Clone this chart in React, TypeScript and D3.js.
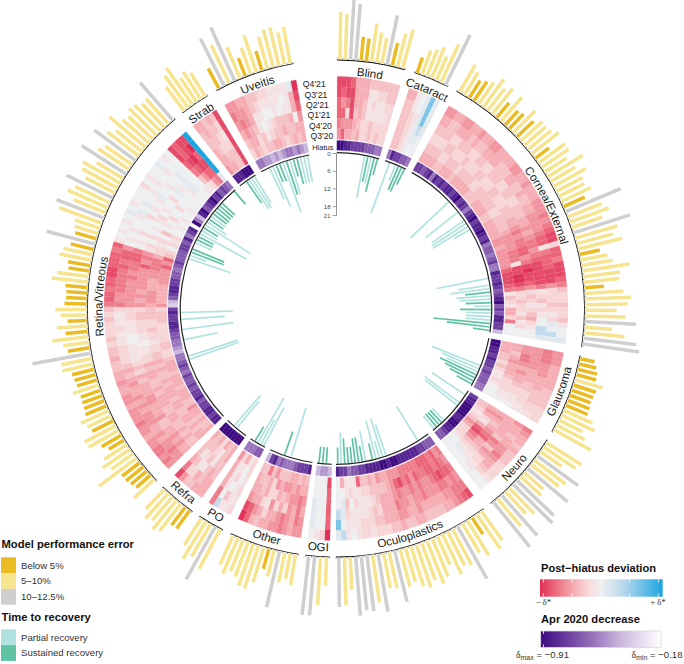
import React from "react";
import * as d3 from "d3";

// ---------- sectors ----------
const sectorNames = ["Blind","Cataract","Cornea/External","Glaucoma","Neuro","Oculoplastics","OGI","Other","PO","Refra","Retina/Vitreous","Strab","Uveitis"];
const rowLabels = ["Q4'21","Q3'21","Q2'21","Q1'21","Q4'20","Q3'20"];
const monthTicks = [0,6,12,18,21];

// Model performance error (%) per model
const blindError = [9.8,9.4,12.5,11.7,4.9,4.7,8.0,6.3,5.3,10.4,4.8,7.1,8.3];
const cataractError = [3.3,5.3,6.0,6.9,5.3,8.7,11.5];
const corneaError = [6.5,5.4,4.2,4.8,5.5,7.2,5.8,6.8,4.0,6.6,4.0,4.3,6.5,4.7,6,5.8,6.2,7.1,3.6,6.8,6.8,5.4,8.5,5.9,7.7,6.2,5.9,6.8,4.8,12.4,7.5,8.6,6.6,12.3,9.1,7.8,9.4,4.3,5.7,6.5,9.9,7.7,7.3,4,8,9.5,8.7,6.5,8.3,10.6,5.6,8.4,11,11.8];
const glaucomaError = [3,3.6,4.1,4.2,5.9,4.9,4.7,4.6,4.8,4.9,6.5,7.6,5.4,6.6,8.7];
const neuroError = [8.6,8,5.4,10.5,8.2,7.4,10.9,5.3,5.8,10.6,11.5,7.4,6.2,11.2,7.5,12];
const oculoError = [7.4,8.6,4.1,8.5,7.0,12.5,8.4,7.9,9.2,6.4,8.5,9.6,8.2,9.4,8.7,7.3,8.0,10.9,7.7,7.4,12.1,9.9,11.6,11.2,12.2,6.7,9.9,10.2];
const ogiError = [5.8,9.9,12.2,12.2];
const otherError = [6.4,5.3,6.3,11.9,5.6,4.3,7.6,9.4,9.2,7.7,7,8.1,6.6];
const poError = [9.3,12.5,7.8,9.1,6.6];
const refraError = [4.6,4.7,7.2,7.8,6.4,7.1,5.5];
const retinaError = [5.7,3.9,4.3,4.6,4.6,9.7,5.6,6.8,5.6,3.7,4.7,7.1,7.3,4.9,5.4,6.3,4.7,4.5,4.4,4.3,5.6,4.3,4.5,4.7,6.5,6.4,12.3,4.6,5.4,7.5,4.6,6.3,4,5.4,6.5,4.6,4.3,4.3,4.6,7.6,6.6,4.4,4.7,6.7,6.2,4.9,10.4,4.6,5.1,5.5,9.4,10.5,7.2,9.1,8.0,10.6,6.9,8.4,9.0,6.4,10.9,7.7,6.8,10.6,8.2,7.0,9.8,7.4,6.9,7.9,7.7,6.7,7.0,10.3];
const strabError = [6.2,8.2,9.3,5.9,6.7,5.7];
const uveitisError = [4.7,10.9,8.7,12.1,7,4,5.8,8.1,4.2,6.9,8.1,8.2,6.8,7.7];

// Post-hiatus deviation: digit = red strength 0-9, letters a-d = blue strength. One string per quarter.
const blindHeat = ["8887444333333","8788444112233","7568443121122","7728343111112","6555432232222","5744342232322"];
const cataractHeat = ["4410aca","3310aca","3321aca","3321aba","3321aa0","3321000"];
const corneaHeat = [
  "554455445445544445544544455565"+"6788277688876"+"3223223100a",
  "443344434334444333443343344555"+"5677167778885"+"2223212a0ba",
  "333322333223322333223322333445"+"4566567888886"+"12312100bba",
  "222233222322233222332223334456"+"5667756898875"+"23212342100",
  "333322333233332233333322333345"+"5556661889986"+"22322131200",
  "444433444344444333444433444445"+"5455555788876"+"13214426000"];
const glaucomaHeat = ["555444443333222","666555444333221","555554443322211","556654544322110","443454443222110","444332321121000"];
const neuroHeat = ["6544343332222100","5443445565443200","4444436535422110","4543456744321100","4542147865321a00","3321235422210000"];
const oculoHeat = ["87654433334433433222122101ba","666554444454455444332221110c","5656655565"+"5455644423"+"211112ab","6778765565"+"6556544432"+"111203a0","5676776675"+"7687543333"+"22112100","6576777666"+"6655544534"+"33711140"];
const ogiHeat = ["9210","700a","700a","700a","7000","8000"];
const otherHeat = ["5545655443479","5645654424578","4645242512445","5655434224344","4454554524334","3434433353633"];
const poHeat = ["211b6","11306","21014","10214","20114","21425"];
const refraHeat = ["4443358","4434226","3431134","3313213","4312333","4342434"];
const retinaHeat = [
  "56566554556555455445"+"443343323222323"+"6776778877767"+"101010a0100020100a010"+"8788d",
  "55655454455545454454"+"343222211121112"+"6556666676775"+"0101001a0a00101001000"+"8789d",
  "44545443354445544434"+"232111100111222"+"5555556566776"+"010200020101a00100a00"+"7897d",
  "33434334433444343344"+"342211011222332"+"5454555557565"+"120201012010020a10a00"+"6788d",
  "44343443344344434334"+"343322122322333"+"4555444556664"+"221203010200200001a00"+"3577d",
  "43343445334443444344"+"432233222223332"+"5444445555757"+"320212001010010000001"+"1256a"];
const strabHeat = ["443438","343328","333218","432228","443338","544338"];
const uveitisHeat = ["554433221111a9","65543211110148","56541100101147","45431012333405","34423123343344","24323344323434"];

// Apr 2020 decrease: digit 0-9 = strength of the drop
const blindHiatus = "9988777766655";
const cataractHiatus = "5877665";
const corneaHiatus = "776785878788789787"+"578978898785"+"665675587"+"787678967"+"688773";
const glaucomaHiatus = "998878776766655";
const neuroHiatus = "7889999889988766";
const oculoHiatus = "6667788888899899888877665778";
const ogiHiatus = "3443";
const otherHiatus = "8777655565873";
const poHiatus = "66555";
const refraHiatus = "9999999";
const retinaHiatus = "8878877687767667567"+"655345566788778"+"7236788776656766"+"677685780953896789786765";
const strabHiatus = "888999";
const uveitisHiatus = "55443434554543";

// Time to recovery in months: [model index, months]; negative = sustained, positive = partial
const blindRecovery = [[8,14.4],[9,-8.6],[10,9],[11,-11.7],[12,-5.6]];
const cataractRecovery = [[1,18],[3,5.6],[4,-8.6],[5,-8.8],[6,-5.8]];
const corneaRecovery = [[13,17.7],[17,13.8],[20,13.2],[21,13.6],[22,13.8],[23,5.9],[38,17.7],[40,10.6],[41,13.5],[42,-8.5],[43,11.5],[44,10.5],[45,-8.6],[46,5.7],[47,-10.5],[48,8.5],[49,8.5],[50,8.5],[51,-19.4],[52,-14.7],[53,-5.6]];
const glaucomaRecovery = [[8,17.4],[9,13.6],[10,11.4],[11,-13.5],[12,-11.2],[13,-8.9],[14,-5.7]];
const neuroRecovery = [[1,13.5],[4,14.7],[5,13.9],[11,5.5],[12,-5.5],[13,-5.5],[14,-5.6],[15,5.6]];
const oculoRecovery = [[3,13.4],[13,11],[14,13.3],[15,5.6],[16,13.2],[17,-5.5],[19,10.3],[20,-5.3],[21,-8.4],[22,-8.2],[23,-5.4],[24,-5.4],[25,-8.4],[26,10.5],[27,-5.4]];
const ogiRecovery = [[1,-5.4],[2,-5.4],[3,-5.4]];
const otherRecovery = [[6,17.4],[8,-8.3]];
const poRecovery = [[0,14.5],[1,9.5],[2,17.4],[3,-5.6]];
const refraRecovery = [[3,11.6],[4,13.6]];
const retinaRecovery = [[19,17.6],[20,17.6],[25,11.6],[28,17.4],[31,14.7],[33,17.5],[49,14.8],[50,5.8],[51,-11.7],[52,-11.5],[54,6],[55,-5.8],[56,-5.7],[57,17.8],[58,6],[59,-5.6],[60,17.9],[61,7.8],[62,-5.8],[63,6],[64,-5.7],[65,-5.9],[66,-5.8],[67,-5.9],[68,-5.8],[73,-5.7]];
const strabRecovery = [[2,-8.7],[3,11.7],[4,12],[5,10.5]];
const uveitisRecovery = [[2,11.5],[3,14.7],[4,-6],[5,-6.2],[6,17.8],[7,-11.8],[8,11.8],[9,-6],[10,-8.9],[11,9],[12,9],[13,9]];

// ---------- layout ----------
const W = 684, H = 664, cx = 336, cy = 308.5;
const sectorStart = [0.3,18.4,29.1,101,121.9,143.7,181.5,188.7,207.1,215.3,226.2,321.9,331.3];
const sectorEnd = [16.1,26.7,98.8,119.7,141.5,180,187,205,213.3,224.1,319.7,328.9,350.1];
const errors = [blindError,cataractError,corneaError,glaucomaError,neuroError,oculoError,ogiError,otherError,poError,refraError,retinaError,strabError,uveitisError];
const heats = [blindHeat,cataractHeat,corneaHeat,glaucomaHeat,neuroHeat,oculoHeat,ogiHeat,otherHeat,poHeat,refraHeat,retinaHeat,strabHeat,uveitisHeat];
const hiatuses = [blindHiatus,cataractHiatus,corneaHiatus,glaucomaHiatus,neuroHiatus,oculoHiatus,ogiHiatus,otherHiatus,poHiatus,refraHiatus,retinaHiatus,strabHiatus,uveitisHiatus];
const recoveries = [blindRecovery,cataractRecovery,corneaRecovery,glaucomaRecovery,neuroRecovery,oculoRecovery,ogiRecovery,otherRecovery,poRecovery,refraRecovery,retinaRecovery,strabRecovery,uveitisRecovery];

const FONT = "'Liberation Sans', Arial, sans-serif";
const GOLD = "#EBBB24", YELLOW = "#F6E48F", GRAY = "#CFCFCF", PARTIAL = "#B0E3DF", SUSTAINED = "#5FC3A3";

const rad = (d: number) => (d * Math.PI) / 180;
const errorRadius = d3.scaleLinear().domain([0, 12.5]).range([249.5, 309.5]);
const monthRadius = d3.scaleLinear().domain([0, 21]).range([155, 93]);
const rowBand = d3.scaleBand().domain(rowLabels).range([232, 169.3]);
const heatColor = d3.scaleLinear<string>().domain([-1,-0.75,-0.45,-0.2,0,0.35,1]).range(["#E03058","#EC6A7C","#F4ADB3","#F7DADC","#EEEFF1","#BBD8EC","#1AA6E0"]);
const hiatusColor = d3.scaleLinear<string>().domain([0,3,5,7,9]).range(["#FFFFFF","#CBB8DE","#9A76BC","#6B3E9F","#3D0A80"]);
const BLUE: Record<string, number> = { a: 0.08, b: 0.3, c: 0.6, d: 1 };
const dev = (c: string) => (c in BLUE ? BLUE[c] : -Number(c) / 9);
const arc = d3.arc<any>();
const polar = (deg: number, r: number) => [cx + r * Math.sin(rad(deg)), cy - r * Math.cos(rad(deg))];
const ring = (a0: number, a1: number, r0: number, r1: number) =>
  arc({ innerRadius: r0, outerRadius: r1, startAngle: rad(a0), endAngle: rad(a1) }) as string;

function labelPath(mid: number, flip: boolean) {
  const p = d3.path();
  const r = flip ? 243 : 233.5;
  const a0 = rad(mid - 40 - 90), a1 = rad(mid + 40 - 90);
  if (flip) p.arc(cx, cy, r, a1, a0, true);
  else p.arc(cx, cy, r, a0, a1, false);
  return p.toString();
}

function Sector({ idx }: { idx: number }) {
  const s = sectorStart[idx], e = sectorEnd[idx], vals = errors[idx], n = vals.length, step = (e - s) / n;
  const mid = (s + e) / 2, flip = mid > 90 && mid < 270;
  return (
    <g>
      {Array.from({ length: n }, (_, i) => {
        const a = s + step * (i + 0.5);
        const [x1, y1] = polar(a, errorRadius(0));
        const [x2, y2] = polar(a, errorRadius(vals[i]));
        const col = vals[i] < 5 ? GOLD : vals[i] < 10 ? YELLOW : GRAY;
        return <line key={"b" + i} x1={x1} y1={y1} x2={x2} y2={y2} stroke={col} strokeWidth={3.5} />;
      })}
      {recoveries[idx].map(([i, v]) => {
        const a = s + step * (i + 0.5);
        const [x1, y1] = polar(a, monthRadius(0));
        const [x2, y2] = polar(a, monthRadius(Math.abs(v)));
        return <line key={"r" + i} x1={x1} y1={y1} x2={x2} y2={y2} stroke={v < 0 ? SUSTAINED : PARTIAL} strokeWidth={1.7} />;
      })}
      <g transform={`translate(${cx},${cy})`}>
        {heats[idx].map((row, j) =>
          Array.from(row).map((c, i) => {
            const top = rowBand(rowLabels[j])! + rowBand.bandwidth();
            const col = heatColor(dev(c));
            return <path key={j + "-" + i} d={ring(s + step * i, s + step * (i + 1), rowBand(rowLabels[j])!, top)} fill={col} stroke={col} strokeWidth={0.2} />;
          })
        )}
        {Array.from(hiatuses[idx]).map((c, i) => {
          const col = hiatusColor(Number(c));
          return <path key={"h" + i} d={ring(s + step * i, s + step * (i + 1), 158.3, 168)} fill={col} stroke={col} strokeWidth={0.2} />;
        })}
        <path d={ring(s, e, 248.1, 248.9)} fill="#111" />
        <path d={ring(s, e, 155.2, 156.4)} fill="#222" />
      </g>
      {Array.from({ length: n + 1 }, (_, i) => {
        const a = s + step * i;
        const [x1, y1] = polar(a, 248.5);
        const [x2, y2] = polar(a, 250);
        return <line key={"t" + i} x1={x1} y1={y1} x2={x2} y2={y2} stroke="#111" strokeWidth={0.5} />;
      })}
      <path id={"lab" + idx} d={labelPath(mid, flip)} fill="none" />
      <text fontFamily={FONT} fontSize={11.6} fill="#1a1a1a" textAnchor="middle">
        <textPath href={"#lab" + idx} startOffset="50%">{sectorNames[idx]}</textPath>
      </text>
    </g>
  );
}

function Legend() {
  const swatches1 = [["Below 5%", GOLD], ["5\u201310%", YELLOW], ["10\u201312.5%", GRAY]];
  const swatches2 = [["Partial recovery", PARTIAL], ["Sustained recovery", SUSTAINED]];
  const devStops = d3.range(0, 1.0001, 0.05);
  const tickX = d3.scaleLinear().domain([-1, 1]).range([543.3, 658.3]);
  return (
    <g fontFamily={FONT}>
      <text x={1.5} y={548} fontSize={11.2} fontWeight="bold" fill="#111">Model performance error</text>
      {swatches1.map(([t, c], i) => (
        <g key={t}>
          <rect x={1} y={557.3 + i * 15.8} width={15} height={15.8} fill={c} />
          <text x={21} y={565.2 + i * 15.8} dy="0.35em" fontSize={9.6} fill="#333">{t}</text>
        </g>
      ))}
      <text x={1.5} y={621} fontSize={11.2} fontWeight="bold" fill="#111">Time to recovery</text>
      {swatches2.map(([t, c], i) => (
        <g key={t}>
          <rect x={1} y={629.3 + i * 15.8} width={15} height={15.8} fill={c} />
          <text x={21} y={637.2 + i * 15.8} dy="0.35em" fontSize={9.6} fill="#333">{t}</text>
        </g>
      ))}
      <defs>
        <linearGradient id="devGrad">
          {devStops.map((t) => <stop key={t} offset={t} stopColor={heatColor(t * 2 - 1)} />)}
        </linearGradient>
        <linearGradient id="hiaGrad">
          {devStops.map((t) => <stop key={t} offset={t} stopColor={hiatusColor(9 - t * 9)} />)}
        </linearGradient>
      </defs>
      <text x={541} y={571.7} fontSize={11.1} fontWeight="bold" fill="#111">Post{"\u2212"}hiatus deviation</text>
      <rect x={540} y={579.3} width={122.7} height={17.4} fill="url(#devGrad)" />
      {[-1, -0.5, 0, 0.5, 1].map((t) => (
        <g key={t} stroke="#fff" strokeWidth={0.8}>
          <line x1={tickX(t)} x2={tickX(t)} y1={579.3} y2={582.7} />
          <line x1={tickX(t)} x2={tickX(t)} y1={593.3} y2={596.7} />
        </g>
      ))}
      <text x={543.5} y={605} fontSize={9} fill="#333" textAnchor="middle" fontFamily="'Liberation Serif', serif">{"\u2212\u2009\u03B4*"}</text>
      <text x={658} y={605} fontSize={9} fill="#333" textAnchor="middle" fontFamily="'Liberation Serif', serif">{"+\u2009\u03B4*"}</text>
      <text x={541} y={623.3} fontSize={11.2} fontWeight="bold" fill="#111">Apr 2020 decrease</text>
      <rect x={540.7} y={631} width={120.5} height={16.4} fill="url(#hiaGrad)" stroke="#D9D9D9" strokeWidth={0.8} />
      {[543.5, 658.5].map((x) => (
        <g key={x} stroke="#fff" strokeWidth={0.8}>
          <line x1={x} x2={x} y1={631} y2={634} />
          <line x1={x} x2={x} y1={644.4} y2={647.4} />
        </g>
      ))}
      <text x={516} y={658} fontSize={9.6} fill="#333">
        <tspan fontFamily="'Liberation Serif', serif">{"\u03B4"}</tspan><tspan fontSize={7} dy={1.5}>max</tspan><tspan dy={-1.5}>{" = \u22120.91"}</tspan>
      </text>
      <text x={631.5} y={658} fontSize={9.6} fill="#333">
        <tspan fontFamily="'Liberation Serif', serif">{"\u03B4"}</tspan><tspan fontSize={7} dy={1.5}>min</tspan><tspan dy={-1.5}>{" = \u22120.18"}</tspan>
      </text>
    </g>
  );
}

export default function App() {
  const labelAngle = -8.4;
  return (
    <svg width={W} height={H} style={{ position: "absolute", left: 0, top: 0, background: "#fff" }}>
      {sectorNames.map((_, i) => <Sector key={i} idx={i} />)}
      {rowLabels.map((q) => {
        const r = rowBand(q)! + rowBand.bandwidth() / 2;
        const [x, y] = polar(labelAngle, r);
        return <text key={q} x={x} y={y} dy="0.35em" fontFamily={FONT} fontSize={8.7} fill="#222">{q}</text>;
      })}
      {(() => {
        const [x, y] = polar(labelAngle, 162.8);
        return <text x={x} y={y} dy="0.35em" fontFamily={FONT} fontSize={7.5} fill="#222">Hiatus</text>;
      })()}
      <line x1={336.5} x2={336.5} y1={cy - monthRadius(0)} y2={cy - monthRadius(21)} stroke="#777" strokeWidth={0.8} />
      {monthTicks.map((m) => {
        const y = cy - monthRadius(m);
        return (
          <g key={m}>
            <line x1={332.5} x2={336.5} y1={y} y2={y} stroke="#777" strokeWidth={0.7} />
            <text x={330.5} y={y} dy="0.35em" textAnchor="end" fontFamily={FONT} fontSize={6} fill="#444">{m}</text>
          </g>
        );
      })}
      <Legend />
    </svg>
  );
}
